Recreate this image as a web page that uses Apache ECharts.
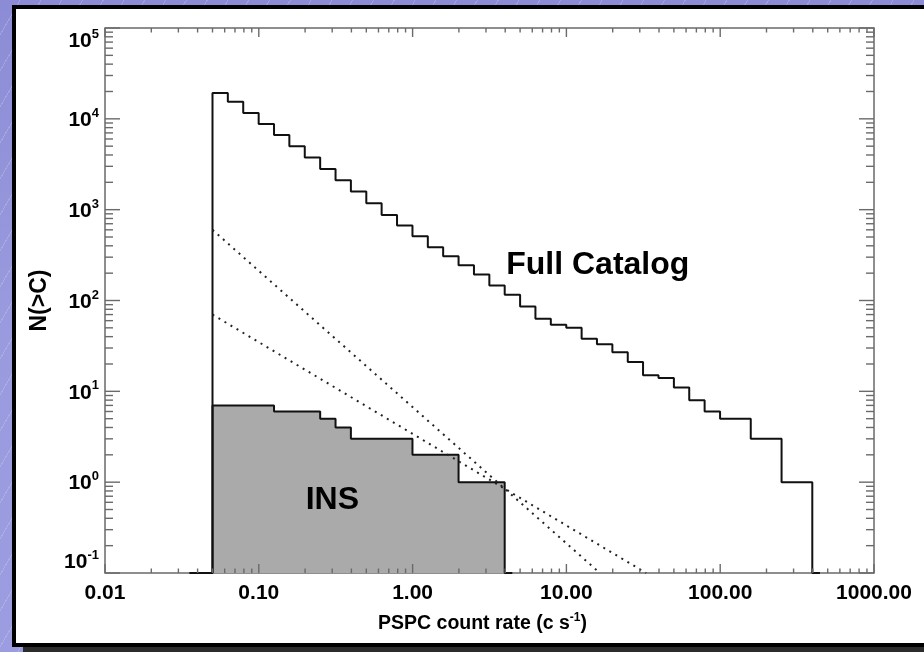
<!DOCTYPE html>
<html>
<head>
<meta charset="utf-8">
<title>N(>C) – PSPC count rate</title>
<script src="https://cdn.jsdelivr.net/npm/echarts@6/dist/echarts.min.js"></script>
<style>
  html, body { margin: 0; padding: 0; width: 924px; height: 652px; overflow: hidden; }
  body {
    background-color: #9696dc;
    background-image:
      repeating-linear-gradient(120deg, rgba(255,255,255,0) 0px, rgba(255,255,255,0) 17px, rgba(255,255,255,0.18) 17px, rgba(255,255,255,0.18) 18px),
      linear-gradient(180deg, #8c8cd6 0%, #9a9ade 50%, #9c9ce0 100%);
  }
  #shadow { position: absolute; left: 23px; top: 647px; width: 901px; height: 5px; background: #2c2c2c; }
  #panel {
    position: absolute; left: 12px; top: 5px; width: 930px; height: 634px;
    background: #ffffff;
    border-left: 4px solid #000; border-top: 4px solid #000; border-bottom: 4px solid #000;
  }
  #chart { position: absolute; left: 0; top: 0; width: 924px; height: 652px; }
</style>
</head>
<body>
<div id="shadow"></div>
<div id="panel"></div>
<div id="chart"></div>
<script>
// Cumulative source counts N(>C) against PSPC count rate.
// Bin edges (c/s), 0.1 dex wide, starting at 0.05 c/s.
const binEdges = [
  0.05, 0.0629, 0.0792, 0.0998, 0.1256, 0.158, 0.199, 0.2506, 0.3155, 0.397,
  0.5, 0.629, 0.792, 0.998, 1.256, 1.58, 1.99, 2.506, 3.155, 3.97,
  5.0, 6.29, 7.92, 9.98, 12.56, 15.8, 19.9, 25.06, 31.5, 39.7,
  50, 62.9, 79.2, 99.8, 125.6, 158, 199, 250.6, 315.5, 397
];

// Full catalogue, N(>C) per bin
const fullCatalog = [
  19300, 15400, 11600, 8750, 6640, 4990, 3750, 2810, 2110, 1580,
  1175, 875, 670, 509, 385, 307, 245, 193, 146, 116,
  86, 63, 54, 50, 38, 33, 27, 21, 15, 14,
  11, 8, 6, 5, 5, 3, 3, 1, 1
];

// Isolated neutron stars, N(>C) per bin
const insCounts = [7, 7, 7, 7, 6, 6, 6, 5, 4, 3, 3, 3, 3, 2, 2, 2, 1, 1, 1];

// Empty bins drawn along the floor on either side of each histogram
const padLow = 0.0355;
const fullPadHigh = 445;
const insPadHigh = 4.45;

// Reference power laws (slopes -1.5 and -1), end points in (C, N)
const euclidLine = [[0.05, 600], [16.5, 0.1]];
const flatLine = [[0.05, 70], [33, 0.1]];

// Axis ranges and labels
const xRange = [0.01, 1000];
const yRange = [0.1, 100000];
const xTickLabels = ['0.01', '0.10', '1.00', '10.00', '100.00', '1000.00'];
const yTickExponents = ['-1', '0', '1', '2', '3', '4', '5'];

const FONT = '"Liberation Sans", Arial, Helvetica, sans-serif';
const FLOOR = yRange[0];
const AXIS_COLOR = '#6a6a6a';

function stepPoints(edges, counts, lo, hi) {
  const pts = [[lo, FLOOR]];
  counts.forEach((c, i) => pts.push([edges[i], c]));
  pts.push([edges[counts.length], FLOOR]);
  pts.push([hi, FLOOR]);
  return pts;
}

// Log-axis tick positions: majors at each decade, minors at 2..9
function logTicks(lo, hi) {
  const out = [];
  const d0 = Math.round(Math.log10(lo)), d1 = Math.round(Math.log10(hi));
  for (let d = d0; d <= d1; d++) {
    const base = Math.pow(10, d);
    out.push([base, 1]);
    if (d < d1) for (let m = 2; m <= 9; m++) out.push([m * base, 0]);
  }
  return out;
}

const xTicks = logTicks(xRange[0], xRange[1]);
const yTicks = logTicks(yRange[0], yRange[1]);

function xLabel(v) {
  const i = Math.round(Math.log10(v) - Math.log10(xRange[0]));
  return xTickLabels[i] || '';
}
function yLabel(v) {
  const i = Math.round(Math.log10(v) - Math.log10(yRange[0]));
  return '{b|10}{e|' + yTickExponents[i] + '}';
}

const chart = echarts.init(document.getElementById('chart'), null, { renderer: 'canvas' });

chart.setOption({
  animation: false,
  backgroundColor: 'transparent',
  grid: {
    left: 105, right: 50, top: 28, bottom: 79,
    show: true, borderColor: AXIS_COLOR, borderWidth: 1.5, backgroundColor: 'transparent'
  },
  xAxis: {
    type: 'log', logBase: 10, min: xRange[0], max: xRange[1], splitNumber: 5,
    axisLine: { show: false }, axisTick: { show: false }, splitLine: { show: false },
    axisLabel: {
      formatter: xLabel, margin: 10,
      fontFamily: FONT, fontWeight: 'bold', fontSize: 21, color: '#000'
    },
    name: '{t|PSPC count rate (c s}{s|-1}{t|)}',
    nameLocation: 'middle', nameGap: 39,
    nameTextStyle: {
      padding: [0, 14, 0, 0],
      rich: {
        t: { fontFamily: FONT, fontWeight: 'bold', fontSize: 19.5, color: '#000', lineHeight: 22, verticalAlign: 'bottom' },
        s: { fontFamily: FONT, fontWeight: 'bold', fontSize: 12, color: '#000', lineHeight: 22, verticalAlign: 'top' }
      }
    }
  },
  yAxis: {
    type: 'log', logBase: 10, min: yRange[0], max: yRange[1], splitNumber: 6,
    axisLine: { show: false }, axisTick: { show: false }, splitLine: { show: false },
    axisLabel: {
      formatter: yLabel, margin: 6,
      verticalAlignMinLabel: 'bottom', verticalAlignMaxLabel: 'top',
      rich: {
        b: { fontFamily: FONT, fontWeight: 'bold', fontSize: 21, color: '#000', lineHeight: 24, verticalAlign: 'bottom' },
        e: { fontFamily: FONT, fontWeight: 'bold', fontSize: 13, color: '#000', lineHeight: 14, verticalAlign: 'top' }
      }
    },
    name: 'N(>C)', nameLocation: 'middle', nameGap: 54, nameRotate: 90,
    nameTextStyle: { fontFamily: FONT, fontWeight: 'bold', fontSize: 23, color: '#000' }
  },
  series: [
    {
      name: 'INS', type: 'line', step: 'end', symbol: 'none', z: 2,
      data: stepPoints(binEdges, insCounts, padLow, insPadHigh),
      lineStyle: { color: '#111', width: 2 },
      areaStyle: { color: '#aaaaaa', opacity: 1, origin: 'start' }
    },
    {
      name: 'Full Catalog', type: 'line', step: 'end', symbol: 'none', z: 3,
      data: stepPoints(binEdges, fullCatalog, padLow, fullPadHigh),
      lineStyle: { color: '#111', width: 2 }
    },
    {
      name: 'slope -1.5', type: 'line', symbol: 'none', z: 4,
      data: euclidLine,
      lineStyle: { color: '#222', width: 2, type: [2, 5] }
    },
    {
      name: 'slope -1', type: 'line', symbol: 'none', z: 4,
      data: flatLine,
      lineStyle: { color: '#222', width: 2, type: [2, 5] }
    },
    {
      // x-axis ticks on bottom and top edges
      type: 'custom', silent: true, z: 6, clip: false,
      data: xTicks.map(t => [t[0], FLOOR, t[1]]),
      encode: { x: 0, y: 1 },
      renderItem(params, api) {
        const cs = params.coordSys;
        const x = api.coord([api.value(0), FLOOR])[0];
        const len = api.value(2) ? 9 : 4.5;
        const st = { stroke: AXIS_COLOR, lineWidth: 1.4 };
        return { type: 'group', children: [
          { type: 'line', shape: { x1: x, y1: cs.y + cs.height, x2: x, y2: cs.y + cs.height - len }, style: st },
          { type: 'line', shape: { x1: x, y1: cs.y, x2: x, y2: cs.y + len }, style: st }
        ] };
      }
    },
    {
      // y-axis ticks on left and right edges
      type: 'custom', silent: true, z: 6, clip: false,
      data: yTicks.map(t => [xRange[0], t[0], t[1]]),
      encode: { x: 0, y: 1 },
      renderItem(params, api) {
        const cs = params.coordSys;
        const y = api.coord([xRange[0], api.value(1)])[1];
        const len = api.value(2) ? 15 : 8;
        const st = { stroke: AXIS_COLOR, lineWidth: 1.4 };
        return { type: 'group', children: [
          { type: 'line', shape: { x1: cs.x, y1: y, x2: cs.x + len, y2: y }, style: st },
          { type: 'line', shape: { x1: cs.x + cs.width, y1: y, x2: cs.x + cs.width - len, y2: y }, style: st }
        ] };
      }
    },
    {
      // in-plot annotations
      type: 'scatter', symbolSize: 0, silent: true, z: 7,
      itemStyle: { opacity: 1 },
      data: [
        { value: [16.0, 245], label: { formatter: 'Full Catalog' } },
        { value: [0.301, 0.633], label: { formatter: 'INS' } }
      ],
      label: {
        show: true, position: 'inside', opacity: 1,
        fontFamily: FONT, fontWeight: 'bold', fontSize: 32, color: '#000'
      }
    }
  ]
});
</script>
</body>
</html>
